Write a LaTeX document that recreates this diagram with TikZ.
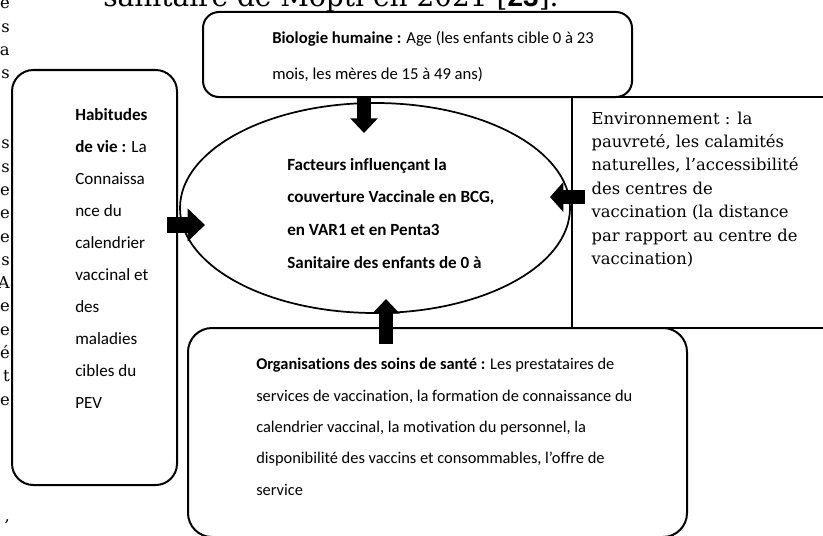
\documentclass[tikz,border=0pt]{standalone}
\usepackage{fontspec}
\setmainfont[Ligatures=NoCommon]{Carlito}
\newfontfamily\bookman{DejaVu Serif}
\newfontfamily\arialf{Liberation Sans}
\usetikzlibrary{shapes.geometric,arrows.meta,positioning,calc}

\tikzset{
    roundbox/.style={draw, line width=1.5pt, inner sep=0pt},
    txt/.style={anchor=north west, align=left, inner sep=0pt, font=\fontsize{12.5}{24}\selectfont},
    serif/.style={anchor=north west, align=left, inner sep=0pt, font=\bookman\fontsize{12.3}{17.6}\selectfont},
    frag/.style={anchor=base east, inner sep=0pt, font=\bookman\fontsize{12.3}{17.6}\selectfont},
    bigarrow/.style={line width=10.5pt, -{Triangle[width=20pt,length=11pt]}},
}

\begin{document}
\begin{tikzpicture}[x=0.75pt,y=-0.75pt]
    \useasboundingbox (0,0) rectangle (823,535);

    \node[anchor=base west, inner sep=0pt, font=\bookman\fontsize{21}{24}\selectfont] (cap) at (103,7)
        {sanitaire de Mopti en 2021 [{\arialf\bfseries 23}].};
    \foreach \l/\k in {e/0,s/1,a/2,s/3,s/6,s/7,e/8,e/9,e/10,s/11,A/12,e/13,e/14,é/15,t/16,e/17,{,}/22} {
        \node[frag] (frag\k) at (10,9+23.3*\k) {\l};
    }

    \node[roundbox, rounded corners=12pt, minimum width=321.75pt, minimum height=63.75pt] (bio) at (417.5,54.5) {};
    \node[txt, font=\fontsize{12.5}{27}\selectfont] (biotxt) at ($(bio.north west)+(70,20)$)
        {\textbf{Biologie humaine :} Age (les enfants cible 0 à 23\\
         mois, les mères de 15 à 49 ans)};

    \node[roundbox, rounded corners=16pt, minimum width=123.75pt, minimum height=311.25pt] (habit) at (94.5,277.5) {};
    \node[txt, font=\fontsize{12.8}{24}\selectfont] (habittxt) at ($(habit.north west)+(64,39)$)
        {\textbf{Habitudes}\\ \textbf{de vie :} La\\ Connaissa\\ nce du\\ calendrier\\
         vaccinal et\\ des\\ maladies\\ cibles du\\ PEV};

    \node[ellipse, draw, line width=1.3pt, inner sep=0pt, minimum width=292.5pt, minimum height=157.5pt] (fact) at (375,208) {};
    \node[txt, font=\fontsize{12.8}{24.5}\selectfont\bfseries] (facttxt) at (287,158)
        {Facteurs influençant la\\ couverture Vaccinale en BCG,\\ en VAR1 et en Penta3\\
         Sanitaire des enfants de 0 à};

    \node[draw, line width=1pt, inner sep=0pt, minimum width=193.5pt, minimum height=173.25pt] (env) at (701,212.5) {};
    \node[serif] (envtxt) at ($(env.north west)+(20,15)$)
        {Environnement : la\\ pauvreté, les calamités\\ naturelles, l’accessibilité\\
         des centres de\\ vaccination (la distance\\ par rapport au centre de\\ vaccination)};

    \node[roundbox, rounded corners=18pt, minimum width=374.25pt, minimum height=156.75pt] (orga) at (437.5,432.5) {};
    \node[txt, font=\fontsize{12.3}{23.5}\selectfont] (orgatxt) at ($(orga.north west)+(69,31)$)
        {\textbf{Organisations des soins de santé :} Les prestataires de\\
         services de vaccination, la formation de connaissance du\\
         calendrier vaccinal, la motivation du personnel, la\\
         disponibilité des vaccins et consommables, l’offre de\\
         service};

    \coordinate (toptip) at (364,133);
    \coordinate (lefttip) at (205,225);
    \coordinate (righttip) at (550,197);
    \coordinate (bottip) at (386,299);
    \draw[bigarrow] (bio.south -| toptip) -- (toptip);
    \draw[bigarrow, line width=12pt, -{Triangle[width=24pt,length=13pt]}] ($(habit.east |- lefttip)+(-11,0)$) -- (lefttip);
    \draw[bigarrow, line width=11pt, -{Triangle[width=22pt,length=10pt]}] ($(env.west |- righttip)+(14,0)$) -- (righttip);
    \draw[bigarrow] ($(orga.north -| bottip)+(0,17)$) -- (bottip);
\end{tikzpicture}
\end{document}
